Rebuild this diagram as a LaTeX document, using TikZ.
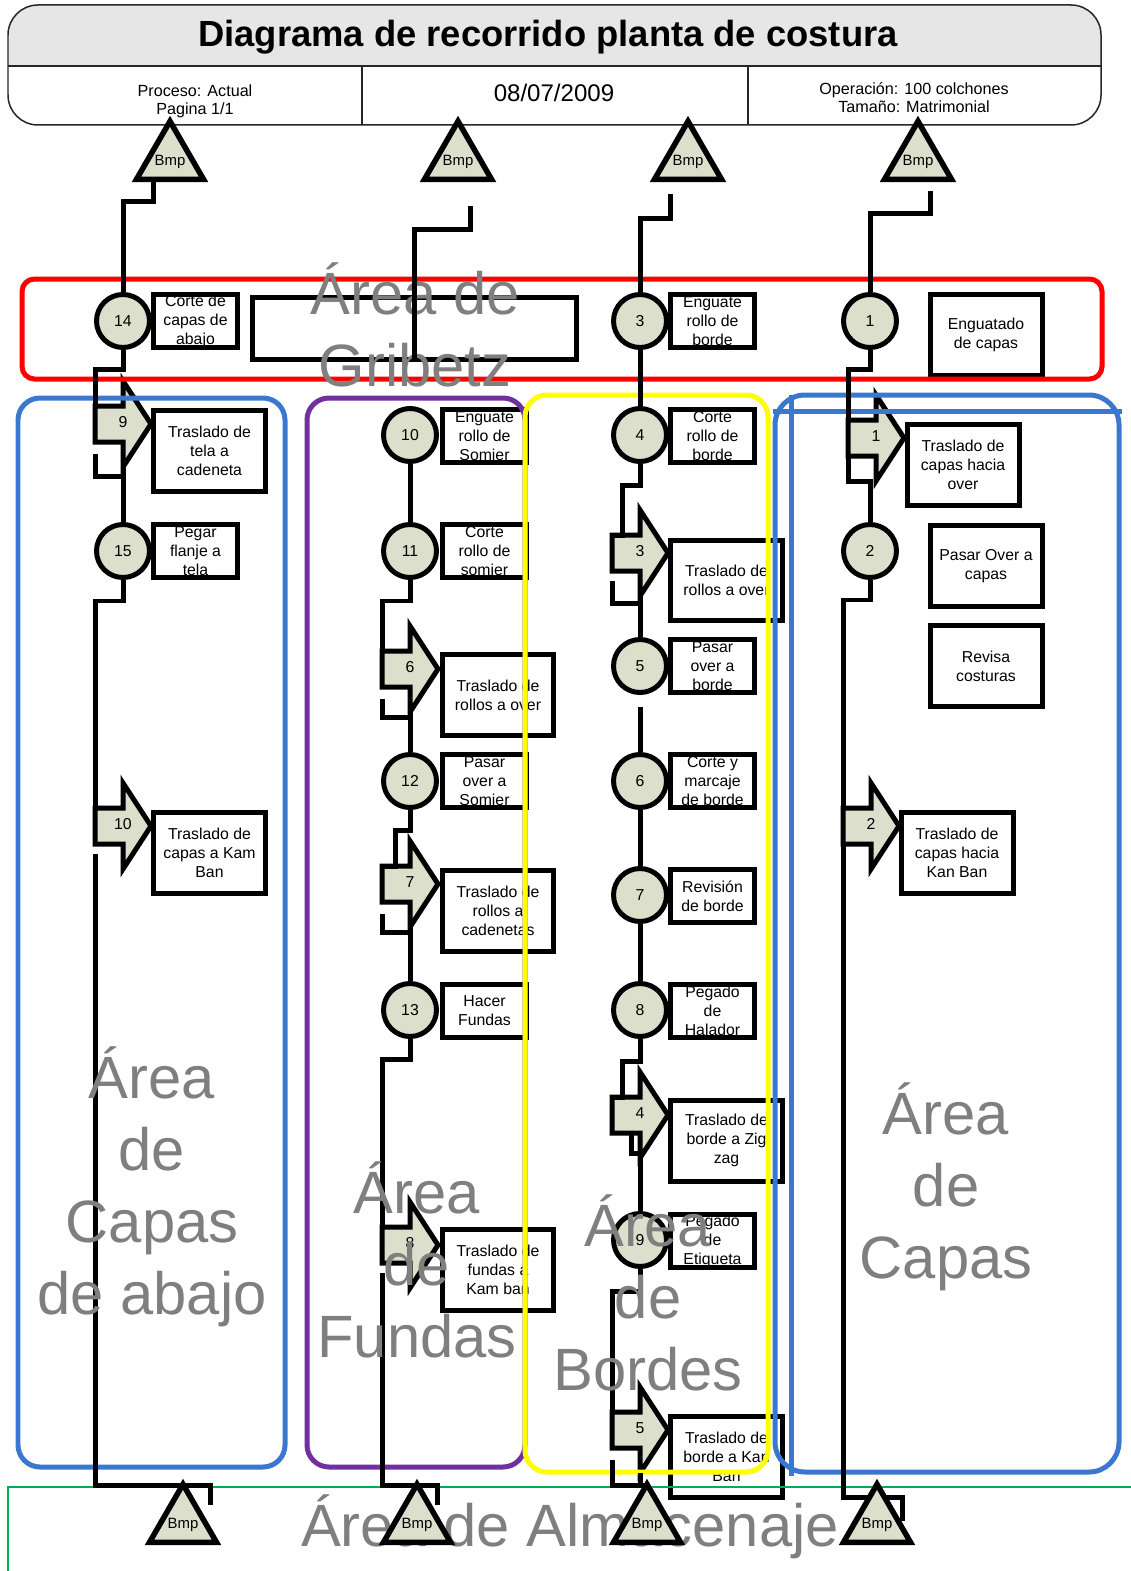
\documentclass[tikz,border=0pt]{standalone}
\usepackage{fontspec}
\setmainfont{Liberation Sans}
\usetikzlibrary{shapes.geometric}
\definecolor{OpOlive}{HTML}{DCDFCB}
\definecolor{HeadGray}{HTML}{E6E6E6}
\definecolor{AreaBlue}{HTML}{3A78CF}
\definecolor{AreaPurple}{HTML}{7030A0}
\definecolor{AreaYellow}{HTML}{FFFF00}
\definecolor{AreaRed}{HTML}{FF0000}
\definecolor{AreaGreen}{HTML}{00B050}
\definecolor{AreaText}{HTML}{7F7F7F}
\tikzset{
  flow/.style={line width=0.1cm,draw=black},
  opcircle/.style={circle,draw,line width=0.1cm,fill=OpOlive,minimum size=1.06cm,
    inner sep=0pt,font=\fontsize{9}{10}\selectfont},
  opbox/.style={draw,line width=0.1cm,fill=white,minimum width=1.68cm,minimum height=1.06cm,
    inner sep=0pt,align=center,font=\fontsize{9}{10.8}\selectfont},
  trbox/.style={opbox,minimum width=2.24cm,minimum height=1.62cm},
  trshape/.style={draw,line width=0.1cm,fill=OpOlive},
  trnum/.style={inner sep=0pt,font=\fontsize{9}{10}\selectfont},
  bmptri/.style={regular polygon,regular polygon sides=3,draw,line width=0.11cm,fill=OpOlive,
    minimum size=1.55cm,inner sep=0pt,font=\fontsize{8.5}{10}\selectfont},
  zone/.style={line width=0.1cm,rounded corners=0.44cm},
  areatext/.style={text=AreaText,align=center,font=\fontsize{34}{41}\selectfont,inner sep=0pt},
  hdr/.style={line width=0.03cm,draw=black!85},
}
% transport arrow: name, tail x, axis y, number
\newcommand{\trarrow}[4]{%
  \draw[trshape] (#2,#3-18) -- (#2+28,#3-18) -- (#2+28,#3-43) -- (#2+56,#3)
    -- (#2+28,#3+43) -- (#2+28,#3+18) -- (#2,#3+18) -- cycle;
  \coordinate (#1-tl) at (#2,#3-18);
  \coordinate (#1-bl) at (#2,#3+18);
  \coordinate (#1-hb) at (#2+28,#3+43);
  \node[trnum] (#1) at (#2+28,#3-2) {#4};
}
\newcommand{\bmptext}{\smash{\makebox[0pt]{\raisebox{-0.36em}{Bmp}}}}

\begin{document}
\begin{tikzpicture}[x=0.02cm,y=-0.02cm]
  \useasboundingbox (0,0) rectangle (1130,1571);
  % header
  \begin{scope}
    \clip[rounded corners=0.6cm] (8,5) rectangle (1101,125);
    \fill[HeadGray] (8,5) rectangle (1101,66);
  \end{scope}
  \draw[hdr,rounded corners=0.6cm] (8,5) rectangle (1101,125);
  \draw[hdr] (8,66) -- (1101,66) (362,66) -- (362,125) (748,66) -- (748,125);
  \node[font=\fontsize{20.7}{24}\selectfont\bfseries] (title) at (548,37) {Diagrama de recorrido planta de costura};
  \node[align=center,font=\fontsize{9.2}{10.2}\selectfont] (proceso) at (195,101) {Proceso: Actual\\Pagina 1/1};
  \node[font=\fontsize{13.7}{16}\selectfont] (fecha) at (554,93) {08/07/2009};
  \node[align=center,font=\fontsize{9.2}{10.2}\selectfont] (operacion) at (914,98) {Operación: 100 colchones\\Tamaño: Matrimonial};

  % Gribetz
  \node[draw,line width=0.1cm,minimum width=6.5cm,minimum height=1.26cm,inner sep=0pt] (gribbox) at (414.5,328.5) {};

  % column 1
  \node[opcircle] (op14) at (123,321) {14};
  \node[opbox] (op14box) at (195.5,321) {Corte de\\capas de\\abajo};
  \trarrow{tr9}{95}{424}{9}
  \node[trbox] (tr9box) at (209.5,451) {Traslado de\\tela a\\cadeneta};
  \node[opcircle] (op15) at (123,551) {15};
  \node[opbox] (op15box) at (195.5,551) {Pegar\\flanje a\\tela};
  \trarrow{tr10}{95}{826}{10}
  \node[trbox] (tr10box) at (209.5,853) {Traslado de\\capas a Kam\\Ban};

  % column 2
  \node[opcircle] (op10) at (410,435) {10};
  \node[opbox] (op10box) at (484.5,436) {Enguate\\rollo de\\Somier};
  \node[opcircle] (op11) at (410,551) {11};
  \node[opbox] (op11box) at (484.5,551) {Corte\\rollo de\\somier};
  \trarrow{tr6}{382}{669}{6}
  \node[trbox] (tr6box) at (498,695) {Traslado de\\rollos a over};
  \node[opcircle] (op12) at (410,781) {12};
  \node[opbox] (op12box) at (484.5,781) {Pasar\\over a\\Somier};
  \trarrow{tr7}{382}{884}{7}
  \node[trbox] (tr7box) at (498,911) {Traslado de\\rollos a\\cadenetas};
  \node[opcircle] (op13) at (410,1010) {13};
  \node[opbox] (op13box) at (484.5,1011) {Hacer\\Fundas};
  \trarrow{tr8}{382}{1245}{8}
  \node[trbox] (tr8box) at (498,1270) {Traslado de\\fundas a\\Kam ban};

  % column 3
  \node[opcircle] (op3) at (640,321) {3};
  \node[opbox] (op3box) at (712.5,321) {Enguate\\rollo de\\borde};
  \node[opcircle] (op4) at (640,435) {4};
  \node[opbox] (op4box) at (712.5,436) {Corte\\rollo de\\borde};
  \trarrow{tr3}{612}{553}{3}
  \node[trbox] (tr3box) at (726.5,580.5) {Traslado de\\rollos a over};
  \node[opcircle] (op5) at (640,666) {5};
  \node[opbox] (op5box) at (712.5,666) {Pasar\\over a\\borde};
  \node[opcircle] (op6) at (640,781) {6};
  \node[opbox] (op6box) at (712.5,781) {Corte y\\marcaje\\de borde};
  \node[opcircle] (op7) at (640,895) {7};
  \node[opbox] (op7box) at (712.5,896) {Revisión\\de borde};
  \node[opcircle] (op8) at (640,1010) {8};
  \node[opbox] (op8box) at (712.5,1011) {Pegado\\de\\Halador};
  \trarrow{tr4}{612}{1115}{4}
  \node[trbox] (tr4box) at (726.5,1140.5) {Traslado de\\borde a Zig\\zag};
  \node[opcircle] (op9) at (640,1240) {9};
  \node[opbox] (op9box) at (712.5,1241) {Pegado\\de\\Etiqueta};
  \trarrow{tr5}{612}{1430}{5}
  \node[trbox] (tr5box) at (726.5,1456.5) {Traslado de\\borde a Kan\\Ban};

  % column 4
  \node[opcircle] (op1) at (870,321) {1};
  \node[trbox] (op1box) at (986,335) {Enguatado\\de capas};
  \trarrow{tr1}{848}{438}{1}
  \node[trbox] (tr1box) at (963,465) {Traslado de\\capas hacia\\over};
  \node[opcircle] (op2) at (870,551) {2};
  \node[trbox] (op2box) at (986,566) {Pasar Over a\\capas};
  \node[trbox] (revbox) at (986,666) {Revisa\\costuras};
  \trarrow{tr2}{843}{826}{2}
  \node[trbox] (tr2box) at (957,853) {Traslado de\\capas hacia\\Kan Ban};

  % zones
  \draw[zone,AreaRed,rounded corners=0.25cm] (22,279) rectangle (1102,379);
  \draw[zone,AreaBlue] (18,398) rectangle (285,1467);
  \draw[zone,AreaPurple] (307,398) rectangle (525,1467);
  \draw[zone,AreaYellow] (525,395) rectangle (768,1472);
  \draw[zone,AreaBlue,rounded corners=0.6cm] (775,395) rectangle (1119,1472);
  \draw[AreaBlue,line width=0.1cm] (773,411) -- (1122,411) (791,395) -- (791,1476);
  \draw[AreaGreen,line width=0.04cm] (1140,1487) -- (8,1487) -- (8,1580);

  % flow column 1
  \draw[flow] (op14.south) -- ++(0,20) -| (tr9-tl);
  \draw[flow] (tr9-hb) -- (op15.north);
  \draw[flow] (tr9-bl) ++(0,12) -- ++(0,22) -- ++(28,0);
  \draw[flow] (op15.south) -- ++(0,21) -| (tr10-tl);
  % flow column 2
  \draw[flow] (op10.south) -- (op11.north);
  \draw[flow] (op11.south) -- ++(0,21) -| (tr6-tl);
  \draw[flow] (tr6-hb) -- (op12.north);
  \draw[flow] (tr6-bl) ++(0,12) -- ++(0,18) -- ++(28,0);
  \draw[flow] (op12.south) -- ++(0,20) -- ++(-15,0) |- (tr7-tl);
  \draw[flow] (tr7-hb) -- (op13.north);
  \draw[flow] (tr7-bl) ++(0,12) -- ++(0,18) -- ++(28,0);
  \draw[flow] (op13.south) -- ++(0,20) -| (tr8-tl);
  % flow column 3
  \draw[flow] (op3.south) -- (op4.north);
  \draw[flow] (op4.south) -- ++(0,22) -- ++(-18,0) |- (tr3-tl);
  \draw[flow] (tr3-hb) -- (op5.north);
  \draw[flow] (tr3-bl) ++(0,10) -- ++(0,22) -- ++(28,0);
  \draw[flow] (op5.south) ++(0,12) -- (op6.north);
  \draw[flow] (op6.south) -- (op7.north);
  \draw[flow] (op7.south) -- (op8.north);
  \draw[flow] (op8.south) -- ++(0,22) -- ++(-18,0) |- (tr4-tl);
  \draw[flow] (tr4-hb) -- (op9.north);
  \draw[flow] (tr4-bl) ++(19,0) -- ++(0,20) -- ++(9,0);
  \draw[flow] (op9.south) -- ++(0,22) -| (tr5-tl);
  \draw[flow] (tr5-hb) -- ++(0,12);
  % flow column 4
  \draw[flow] (op1.south) -- ++(0,20) -| (tr1-tl);
  \draw[flow] (tr1-bl) -- ++(0,25) -| (op2.north);
  \draw[flow] (op2.south) -- ++(0,20) -| (tr2-tl);

  % flow to storage
  \coordinate (store1) at (183,1485);
  \coordinate (store2) at (417,1485);
  \coordinate (store3) at (647,1485);
  \coordinate (store4) at (877,1497);
  \draw[flow] (tr10-bl) ++(0,10) |- (store1) -- ++(27,0) -- ++(0,20);
  \draw[flow] (tr8-bl) ++(0,10) |- (store2) -- ++(20,0) -- ++(0,20);
  \draw[flow] (tr5-bl) ++(0,12) |- (store3);
  \draw[flow] (tr2-bl) |- (store4) -- ++(25,0) -- ++(0,24);

  % area names
  \node[areatext] (zgribetz) at (415,325) {Área de\\Gribetz};
  \node[areatext] (zabajo) at (152,1187) {Área\\de\\Capas\\de abajo};
  \node[areatext] (zfundas) at (417,1260) {Área\\de\\Fundas};
  \node[areatext] (zbordes) at (648,1293) {Área\\de\\Bordes};
  \node[areatext] (zcapas) at (946,1187) {Área\\de\\Capas};
  \node[areatext] (zalmacen) at (570,1527) {Área de Almacenaje};

  % Bmp
  \node[bmptri] (bmpt1) at (170,160) {\bmptext};
  \node[bmptri] (bmpt2) at (458,160) {\bmptext};
  \node[bmptri] (bmpt3) at (688,160) {\bmptext};
  \node[bmptri] (bmpt4) at (918,160) {\bmptext};
  \node[bmptri] (bmpb1) at (183,1523) {\bmptext};
  \node[bmptri] (bmpb2) at (417,1523) {\bmptext};
  \node[bmptri] (bmpb3) at (647,1523) {\bmptext};
  \node[bmptri] (bmpb4) at (877,1523) {\bmptext};

  \draw[flow] (bmpt1.south) ++(-17,0) -- ++(0,19) -| (op14.north);
  \draw[flow] (bmpt2.south) ++(12,24) -- ++(0,23) -| (gribbox.south);
  \draw[flow] (bmpt3.south) ++(-18,12) -- ++(0,24) -| (op3.north);
  \draw[flow] (bmpt4.south) ++(12,9) -- ++(0,22) -| (op1.north);
\end{tikzpicture}
\end{document}
